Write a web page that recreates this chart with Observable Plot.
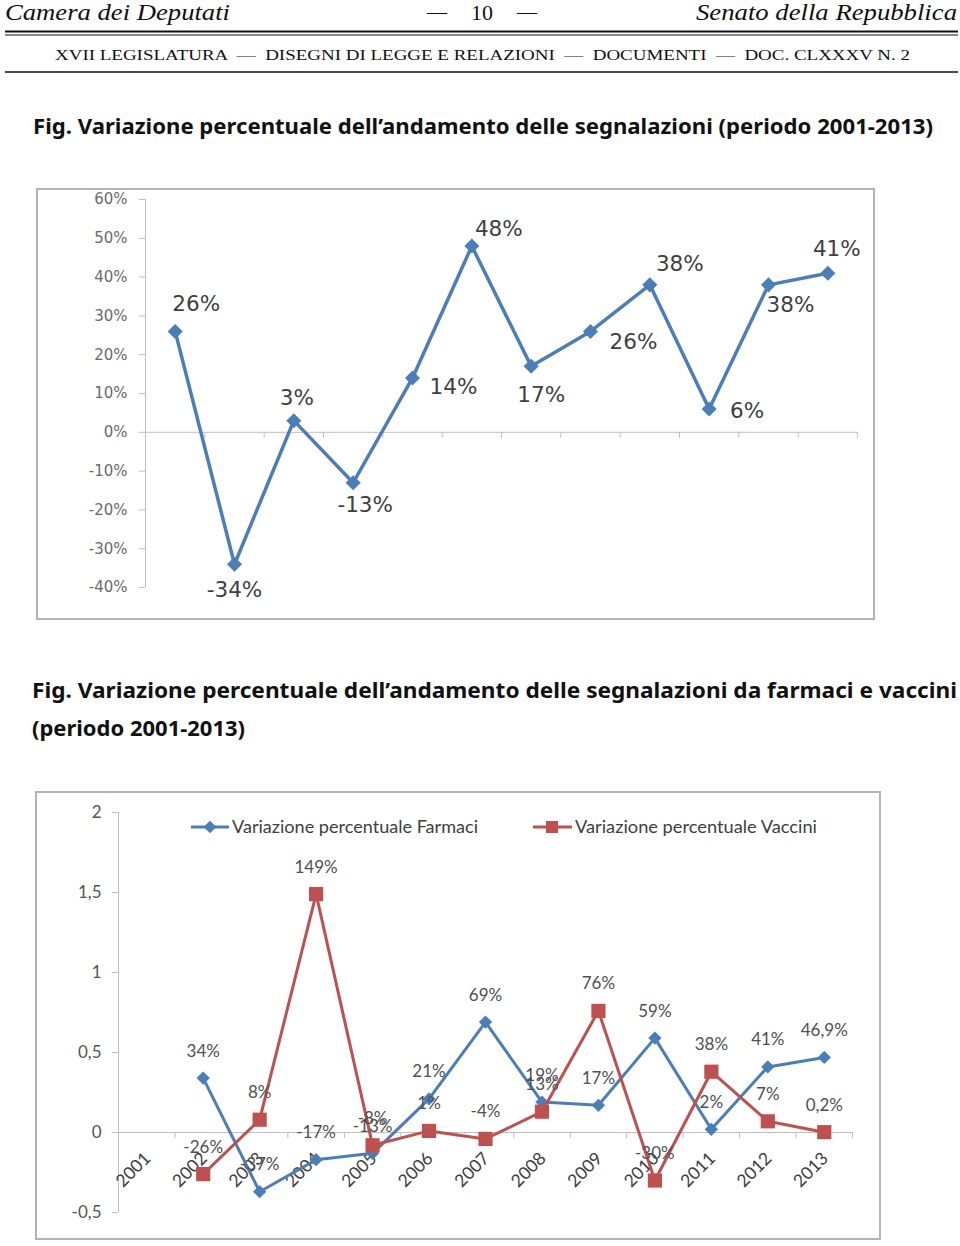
<!DOCTYPE html>
<html><head><meta charset="utf-8">
<script src="https://cdn.jsdelivr.net/npm/d3@7"></script>
<script src="https://cdn.jsdelivr.net/npm/@observablehq/plot@0.6"></script>
<style>
html,body{margin:0;padding:0;background:#fff;}
#page{position:relative;width:960px;height:1246px;overflow:hidden;background:#fff;}
.abs{position:absolute;}
</style></head><body><div id="page"></div>
<script>
// ---------- DATA ----------
// Chart 1: overall percentage variation of reports
const years1 = [2002, 2003, 2004, 2005, 2006, 2007, 2008, 2009, 2010, 2011, 2012, 2013];
const values1 = [0.26, -0.34, 0.03, -0.13, 0.14, 0.48, 0.17, 0.26, 0.38, 0.06, 0.38, 0.41];
const yTicks1 = [-0.4, -0.3, -0.2, -0.1, 0, 0.1, 0.2, 0.3, 0.4, 0.5, 0.6];

// Chart 2: drugs vs vaccines
const years2 = [2001, 2002, 2003, 2004, 2005, 2006, 2007, 2008, 2009, 2010, 2011, 2012, 2013];
const seriesYears2 = [2002, 2003, 2004, 2005, 2006, 2007, 2008, 2009, 2010, 2011, 2012, 2013];
const farmaci = [0.34, -0.37, -0.17, -0.13, 0.21, 0.69, 0.19, 0.17, 0.59, 0.02, 0.41, 0.469];
const vaccini = [-0.26, 0.08, 1.49, -0.08, 0.01, -0.04, 0.13, 0.76, -0.30, 0.38, 0.07, 0.002];
const yTicks2 = [-0.5, 0, 0.5, 1, 1.5, 2];
const seriesNames = ["Variazione percentuale Farmaci", "Variazione percentuale Vaccini"];

// ---------- LAYOUT (label placement for chart 1, px offsets) ----------
const topLabelOffsets = [[21,-27],[0,26],[3,-23],[12,22],[41,9],[27,-17],[10,29],[43,11],[30,-21],[38,2],[22,20],[9,-24]];

const BLUE = "#4a7ebb", RED = "#c0504d", AXIS = "#bfbfbf";
const page = document.getElementById("page");
function add(html){ page.insertAdjacentHTML("beforeend", html); }

// ---------- HEADER ----------
add(`<svg class="abs" style="left:0;top:0" width="960" height="80">
<g font-family="Liberation Serif" fill="#111">
<text x="5" y="20" font-style="italic" font-size="23" textLength="225" lengthAdjust="spacingAndGlyphs">Camera dei Deputati</text>
<text x="437" y="19" font-size="20" text-anchor="middle">—</text>
<text x="482" y="20" font-size="22" text-anchor="middle">10</text>
<text x="527" y="19" font-size="20" text-anchor="middle">—</text>
<text x="957" y="20" font-style="italic" font-size="23" text-anchor="end" textLength="261" lengthAdjust="spacingAndGlyphs">Senato della Repubblica</text>
<text x="55" y="60" font-size="15" textLength="855" lengthAdjust="spacingAndGlyphs" xml:space="preserve">XVII LEGISLATURA  —  DISEGNI DI LEGGE E RELAZIONI  —  DOCUMENTI  —  DOC. CLXXXV N. 2</text>
</g>
<line x1="5" x2="958" y1="31.5" y2="31.5" stroke="#111" stroke-width="2"/>
<line x1="5" x2="958" y1="35" y2="35" stroke="#111" stroke-width="1.2"/>
<line x1="5" x2="958" y1="72" y2="72" stroke="#111" stroke-width="1.4"/>
</svg>`);

// ---------- TITLES ----------
add(`<svg class="abs" style="left:0;top:100" width="960" height="50">
<text x="33" y="34" font-family="Noto Sans" font-weight="bold" font-size="20.5" fill="#111" textLength="900" lengthAdjust="spacingAndGlyphs">Fig. Variazione percentuale dell’andamento delle segnalazioni (periodo 2001-2013)</text>
</svg>`);
add(`<svg class="abs" style="left:0;top:670" width="960" height="80">
<text x="32" y="28" font-family="Noto Sans" font-weight="bold" font-size="21" fill="#111" textLength="925" lengthAdjust="spacingAndGlyphs">Fig. Variazione percentuale dell’andamento delle segnalazioni da farmaci e vaccini</text>
<text x="32" y="66" font-family="Noto Sans" font-weight="bold" font-size="21" fill="#111" textLength="213" lengthAdjust="spacingAndGlyphs">(periodo 2001-2013)</text>
</svg>`);

// ---------- FRAMES ----------
add(`<div class="abs" style="left:36px;top:188px;width:835px;height:428px;border:2px solid #b4b4b4;"></div>`);
add(`<div class="abs" style="left:35px;top:791px;width:842px;height:445px;border:2px solid #b4b4b4;"></div>`);

const fmtTop = v => `${Math.round(v * 100)}%`;
function fmtIt(v){
  const p = Math.round(v * 1000) / 10;
  return (Number.isInteger(p) ? String(p) : p.toFixed(1).replace(".", ",")) + "%";
}

// ---------- CHART 1 ----------
const topData = years1.map((year, i) => ({year, value: values1[i]}));
const xDom1 = [years1[0] - 0.5, years1[years1.length - 1] + 0.5];
const bounds1 = d3.range(years1.length + 1).map(i => xDom1[0] + i);
const chart1 = Plot.plot({
  width: 838, height: 431,
  marginLeft: 109, marginRight: 17, marginTop: 11, marginBottom: 32,
  x: {domain: xDom1},
  y: {domain: [yTicks1[0], yTicks1[yTicks1.length - 1]]},
  style: {fontFamily: "DejaVu Sans", background: "transparent", overflow: "visible"},
  marks: [
    Plot.ruleX([xDom1[0]], {y1: yTicks1[0], y2: yTicks1[yTicks1.length - 1], stroke: AXIS}),
    Plot.ruleY([0], {stroke: AXIS}),
    Plot.ruleX(bounds1, {y1: 0, y2: 0, insetBottom: -6, stroke: AXIS}),
    Plot.axisY({ticks: yTicks1, tickFormat: fmtTop, tickSize: 6, tickPadding: 12, fontSize: 15, color: AXIS, fill: "#6b6b6b", label: null}),
    Plot.axisX({ticks: [], label: null}),
    Plot.line(topData, {x: "year", y: "value", stroke: BLUE, strokeWidth: 3.5}),
    Plot.dot(topData, {x: "year", y: "value", symbol: "square", rotate: 45, r: 6, fill: BLUE, stroke: "none"}),
    ...topData.map((d, i) => Plot.text([d], {x: "year", y: "value", text: dd => fmtTop(dd.value),
      dx: topLabelOffsets[i][0], dy: topLabelOffsets[i][1], fontSize: 21.5, fill: "#404040"}))
  ]
});
const w1 = document.createElement("div"); w1.className = "abs"; w1.style.left = "36px"; w1.style.top = "188px";
w1.appendChild(chart1); page.appendChild(w1);

// ---------- CHART 2 ----------
const farmData = seriesYears2.map((year, i) => ({year, value: farmaci[i]}));
const vaccData = seriesYears2.map((year, i) => ({year, value: vaccini[i]}));
const xDom2 = [years2[0] - 0.5, years2[years2.length - 1] + 0.5];
const bounds2 = d3.range(years2.length + 1).map(i => xDom2[0] + i);
const fmtAxis2 = v => String(v).replace(".", ",");
const chart2 = Plot.plot({
  width: 844, height: 446,
  marginLeft: 82, marginRight: 28, marginTop: 20, marginBottom: 26,
  x: {domain: xDom2},
  y: {domain: [yTicks2[0], yTicks2[yTicks2.length - 1]]},
  style: {fontFamily: "Lato", background: "transparent", overflow: "visible"},
  marks: [
    Plot.ruleX([xDom2[0]], {y1: yTicks2[0], y2: yTicks2[yTicks2.length - 1], stroke: AXIS}),
    Plot.ruleY([0], {stroke: AXIS}),
    Plot.ruleX(bounds2, {y1: 0, y2: 0, insetBottom: -6, stroke: AXIS}),
    Plot.axisY({ticks: yTicks2, tickFormat: fmtAxis2, tickSize: 6, tickPadding: 11, fontSize: 17, color: AXIS, fill: "#555", label: null}),
    Plot.axisX({ticks: [], label: null}),
    Plot.text(years2, {x: d => d, y: 0, text: d => String(d), rotate: -45, textAnchor: "end", lineAnchor: "bottom",
      dx: 5, dy: 27, fontSize: 17.5, fill: "#404040"}),
    Plot.line(farmData, {x: "year", y: "value", stroke: BLUE, strokeWidth: 3}),
    Plot.dot(farmData, {x: "year", y: "value", symbol: "square", rotate: 45, r: 5.3, fill: BLUE, stroke: "none"}),
    Plot.line(vaccData, {x: "year", y: "value", stroke: RED, strokeWidth: 3}),
    Plot.dot(vaccData, {x: "year", y: "value", symbol: "square", r: 8, fill: RED, stroke: "none"}),
    Plot.text(farmData, {x: "year", y: "value", text: d => fmtIt(d.value), dy: -27, fontSize: 17, fill: "#505050"}),
    Plot.text(vaccData, {x: "year", y: "value", text: d => fmtIt(d.value), dy: -27, fontSize: 17, fill: "#505050"})
  ]
});
const w2 = document.createElement("div"); w2.className = "abs"; w2.style.left = "36px"; w2.style.top = "792px";
w2.appendChild(chart2); page.appendChild(w2);

// ---------- LEGEND (chart 2) ----------
add(`<svg class="abs" style="left:180px;top:812px" width="660" height="32">
<line x1="11" x2="49" y1="15" y2="15" stroke="${BLUE}" stroke-width="3"/>
<rect x="25.5" y="10.5" width="9" height="9" fill="${BLUE}" transform="rotate(45 30 15)"/>
<text x="52" y="21" font-family="Lato" font-size="17" fill="#404040" textLength="246" lengthAdjust="spacingAndGlyphs">${seriesNames[0]}</text>
<line x1="353" x2="392" y1="15" y2="15" stroke="${RED}" stroke-width="3"/>
<rect x="366" y="9" width="12" height="12" fill="${RED}"/>
<text x="395" y="21" font-family="Lato" font-size="17" fill="#404040" textLength="242" lengthAdjust="spacingAndGlyphs">${seriesNames[1]}</text>
</svg>`);
</script>
</body></html>
